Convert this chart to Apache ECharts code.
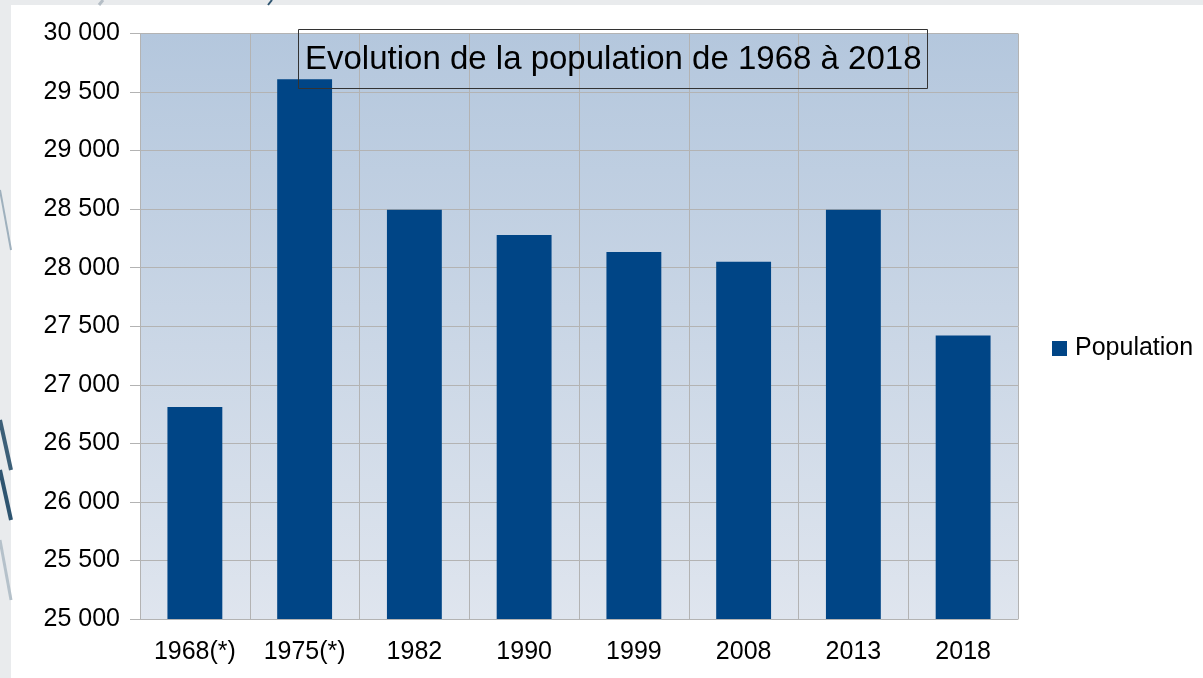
<!DOCTYPE html>
<html>
<head>
<meta charset="utf-8">
<script src="https://cdn.jsdelivr.net/npm/echarts@6/dist/echarts.min.js"></script>
<style>
  html, body { margin: 0; padding: 0; background: #e9ebed; }
  #chart { width: 1203px; height: 678px; }
</style>
</head>
<body>
<div id="chart"></div>
<script>
  // data
  const years = ['1968(*)', '1975(*)', '1982', '1990', '1999', '2008', '2013', '2018'];
  const population = [26810, 29610, 28495, 28280, 28135, 28050, 28495, 27420];
  const yMin = 25000, yMax = 30000, yStep = 500;

  const chart = echarts.init(document.getElementById('chart'));
  const font = '"Liberation Sans", Arial, sans-serif';

  chart.setOption({
    backgroundColor: '#e9ebed',
    animation: false,
    graphic: [
      // white sheet behind the chart
      { type: 'rect', shape: { x: 11, y: 5, width: 1192, height: 673 }, style: { fill: '#ffffff' }, z: -10 },
      // bits of the decoration on the left edge
      { type: 'line', shape: { x1: 0, y1: 190, x2: 11, y2: 250 }, style: { stroke: '#9fb0bd', lineWidth: 2 }, z: -9 },
      { type: 'line', shape: { x1: 0, y1: 420, x2: 11, y2: 470 }, style: { stroke: '#3c5f78', lineWidth: 4 }, z: -9 },
      { type: 'line', shape: { x1: 0, y1: 470, x2: 11, y2: 520 }, style: { stroke: '#2e5470', lineWidth: 4 }, z: -9 },
      { type: 'line', shape: { x1: 0, y1: 540, x2: 11, y2: 600 }, style: { stroke: '#b5c1ca', lineWidth: 3 }, z: -9 },
      { type: 'line', shape: { x1: 99, y1: 5, x2: 103, y2: 0 }, style: { stroke: '#b5bec6', lineWidth: 3 }, z: -9 },
      { type: 'line', shape: { x1: 268, y1: 5, x2: 272, y2: 0 }, style: { stroke: '#2e5470', lineWidth: 2 }, z: -9 }
    ],
    title: {
      text: 'Evolution de la population de 1968 à 2018',
      left: 298,
      top: 29,
      padding: [14, 6, 13, 7],
      borderWidth: 1,
      borderColor: '#333333',
      textStyle: { fontFamily: font, fontSize: 33, fontWeight: 'normal', color: '#000000' }
    },
    legend: {
      left: 1047,
      top: 331,
      icon: 'rect',
      itemWidth: 15,
      itemHeight: 15,
      data: ['Population'],
      textStyle: { fontFamily: font, fontSize: 25, color: '#000000', padding: [0, 0, 0, 3] }
    },
    grid: {
      left: 140,
      top: 33.5,
      width: 878,
      height: 585.5,
      show: true,
      borderWidth: 0,
      backgroundColor: new echarts.graphic.LinearGradient(0, 0, 0, 1, [
        { offset: 0, color: '#b4c7dd' },
        { offset: 1, color: '#dfe5ee' }
      ])
    },
    xAxis: {
      type: 'category',
      data: years,
      axisLine: { lineStyle: { color: '#b3b3b3', width: 1 } },
      axisTick: { length: 11, lineStyle: { color: '#b3b3b3' } },
      splitLine: { show: true, lineStyle: { color: '#b3b3b3', width: 1 } },
      axisLabel: { fontFamily: font, fontSize: 25, color: '#000000', margin: 21, interval: 0 }
    },
    yAxis: {
      type: 'value',
      min: yMin,
      max: yMax,
      interval: yStep,
      axisLine: { show: true, lineStyle: { color: '#b3b3b3', width: 1 } },
      axisTick: { show: true, length: 10, lineStyle: { color: '#b3b3b3' } },
      splitLine: { show: true, lineStyle: { color: '#b3b3b3', width: 1 } },
      axisLabel: {
        fontFamily: font, fontSize: 25, color: '#000000', margin: 20,
        formatter: (v) => String(v).replace(/\B(?=(\d{3})+(?!\d))/g, ' ')
      }
    },
    series: [{
      name: 'Population',
      type: 'bar',
      data: population,
      barWidth: '50%',
      itemStyle: { color: '#004586' }
    }]
  });
</script>
</body>
</html>
